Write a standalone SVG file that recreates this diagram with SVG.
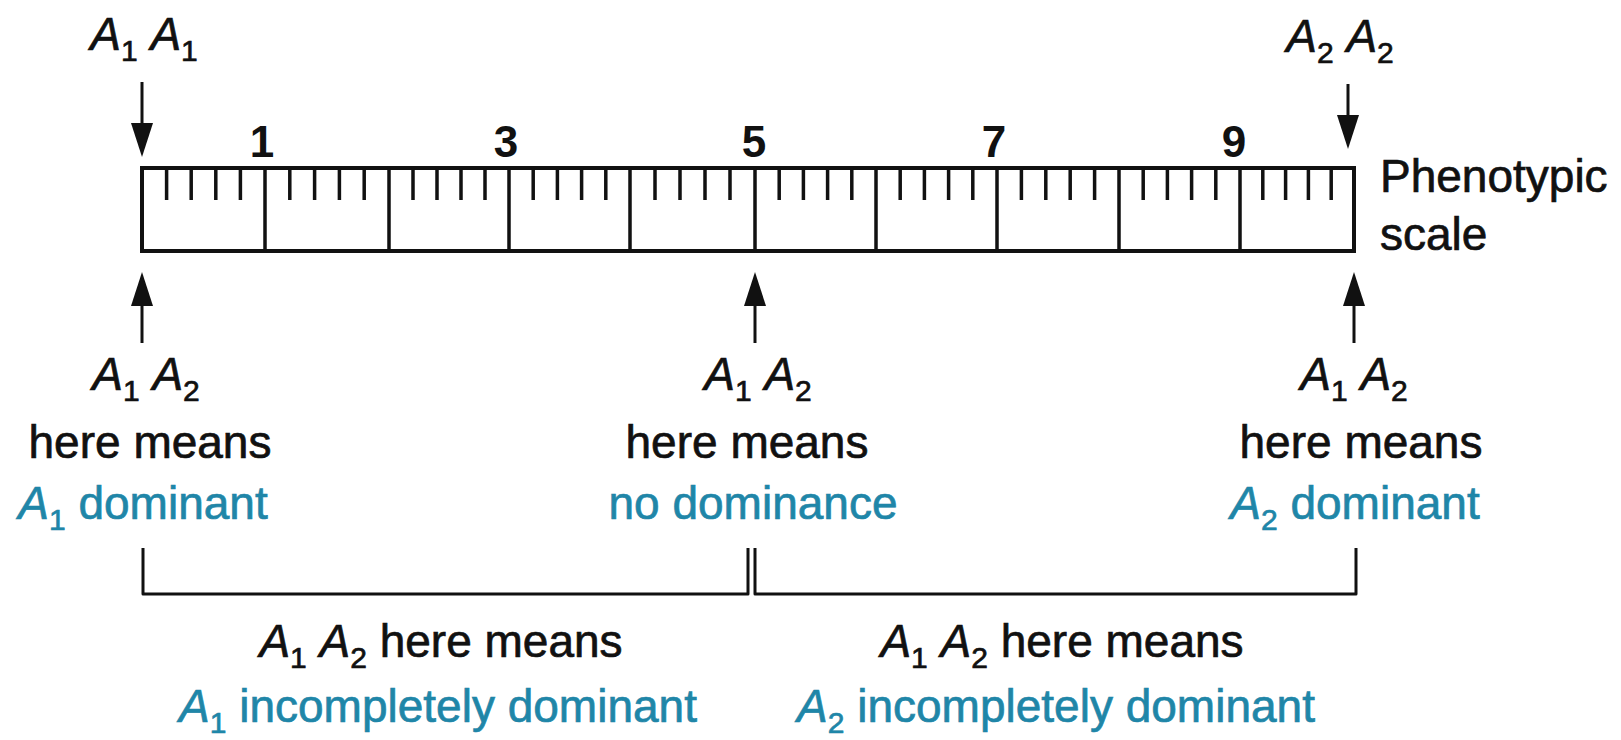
<svg xmlns="http://www.w3.org/2000/svg" width="1621" height="740" viewBox="0 0 1621 740">
<style>
.t{font-family:"Liberation Sans",Arial,Helvetica,sans-serif;font-size:46px;fill:#111;stroke:#111;stroke-width:0.7px}
.c{fill:#1f86a8;stroke:#1f86a8}
.i{font-style:italic}
.s{font-size:30px}
.n{font-family:"Liberation Sans",Arial,Helvetica,sans-serif;font-size:44px;font-weight:bold;fill:#111}
.ln{stroke:#111;fill:none}
</style>
<defs>
<marker id="ah" viewBox="0 0 34 22" refX="14" refY="11" markerWidth="34" markerHeight="22" markerUnits="userSpaceOnUse" orient="auto">
<path d="M0,0 L34,11 L0,22 z" fill="#111"/>
</marker>
</defs>
<rect width="1621" height="740" fill="#fff"/>

<g id="ruler">
<rect x="142" y="168" width="1212" height="83" class="ln" stroke-width="4"/>
<path class="ln" stroke-width="3.5" d="M265,168V251M389,168V251M509,168V251M630,168V251M755,168V251M876,168V251M997,168V251M1119,168V251M1240,168V251"/>
<path class="ln" stroke-width="3.5" d="M166.6,168V200M191.2,168V200M215.8,168V200M240.4,168V200
M289.8,168V200M314.6,168V200M339.4,168V200M364.2,168V200
M413,168V200M437,168V200M461,168V200M485,168V200
M533.2,168V200M557.4,168V200M581.6,168V200M605.8,168V200
M655,168V200M680,168V200M705,168V200M730,168V200
M779.2,168V200M803.4,168V200M827.6,168V200M851.8,168V200
M900.2,168V200M924.4,168V200M948.6,168V200M972.8,168V200
M1021.4,168V200M1045.8,168V200M1070.2,168V200M1094.6,168V200
M1143.2,168V200M1167.4,168V200M1191.6,168V200M1215.8,168V200
M1262.8,168V200M1285.6,168V200M1308.4,168V200M1331.2,168V200"/>
<text class="n" x="262" y="157" text-anchor="middle">1</text>
<text class="n" x="506" y="157" text-anchor="middle">3</text>
<text class="n" x="754" y="157" text-anchor="middle">5</text>
<text class="n" x="994" y="157" text-anchor="middle">7</text>
<text class="n" x="1234" y="157" text-anchor="middle">9</text>
</g>

<g id="scale-label">
<text class="t" x="1380" y="192">Phenotypic</text>
<text class="t" x="1380" y="250">scale</text>
</g>

<g id="a1a1">
<text class="t" x="144" y="50" text-anchor="middle"><tspan class="i">A</tspan><tspan class="s" dy="11">1</tspan><tspan dy="-11"> </tspan><tspan class="i">A</tspan><tspan class="s" dy="11">1</tspan></text>
</g>

<g id="a2a2">
<text class="t" x="1340" y="52" text-anchor="middle"><tspan class="i">A</tspan><tspan class="s" dy="11">2</tspan><tspan dy="-11"> </tspan><tspan class="i">A</tspan><tspan class="s" dy="11">2</tspan></text>
</g>

<g id="left-het">
<text class="t" x="146" y="390" text-anchor="middle"><tspan class="i">A</tspan><tspan class="s" dy="11">1</tspan><tspan dy="-11"> </tspan><tspan class="i">A</tspan><tspan class="s" dy="11">2</tspan></text>
<text class="t" x="150" y="458" text-anchor="middle">here means</text>
<text class="t c" x="143" y="519" text-anchor="middle"><tspan class="i">A</tspan><tspan class="s" dy="11">1</tspan><tspan dy="-11"> dominant</tspan></text>
</g>

<g id="mid-het">
<text class="t" x="758" y="390" text-anchor="middle"><tspan class="i">A</tspan><tspan class="s" dy="11">1</tspan><tspan dy="-11"> </tspan><tspan class="i">A</tspan><tspan class="s" dy="11">2</tspan></text>
<text class="t" x="747" y="458" text-anchor="middle">here means</text>
<text class="t c" x="753" y="519" text-anchor="middle">no dominance</text>
</g>

<g id="right-het">
<text class="t" x="1354" y="390" text-anchor="middle"><tspan class="i">A</tspan><tspan class="s" dy="11">1</tspan><tspan dy="-11"> </tspan><tspan class="i">A</tspan><tspan class="s" dy="11">2</tspan></text>
<text class="t" x="1361" y="458" text-anchor="middle">here means</text>
<text class="t c" x="1355" y="519" text-anchor="middle"><tspan class="i">A</tspan><tspan class="s" dy="11">2</tspan><tspan dy="-11"> dominant</tspan></text>
</g>

<g id="left-range">
<text class="t" x="441" y="657" text-anchor="middle"><tspan class="i">A</tspan><tspan class="s" dy="11">1</tspan><tspan dy="-11"> </tspan><tspan class="i">A</tspan><tspan class="s" dy="11">2</tspan><tspan dy="-11"> here means</tspan></text>
<text class="t c" x="438" y="722" text-anchor="middle"><tspan class="i">A</tspan><tspan class="s" dy="11">1</tspan><tspan dy="-11"> incompletely dominant</tspan></text>
</g>

<g id="right-range">
<text class="t" x="1062" y="657" text-anchor="middle"><tspan class="i">A</tspan><tspan class="s" dy="11">1</tspan><tspan dy="-11"> </tspan><tspan class="i">A</tspan><tspan class="s" dy="11">2</tspan><tspan dy="-11"> here means</tspan></text>
<text class="t c" x="1056" y="722" text-anchor="middle"><tspan class="i">A</tspan><tspan class="s" dy="11">2</tspan><tspan dy="-11"> incompletely dominant</tspan></text>
</g>

<g id="connectors" class="ln" stroke-width="3" stroke-linejoin="round">
<line x1="142" y1="82" x2="142" y2="137" marker-end="url(#ah)"/>
<line x1="1348" y1="84" x2="1348" y2="129" marker-end="url(#ah)"/>
<line x1="142" y1="343" x2="142" y2="292" marker-end="url(#ah)"/>
<line x1="755" y1="343" x2="755" y2="292" marker-end="url(#ah)"/>
<line x1="1354" y1="343" x2="1354" y2="292" marker-end="url(#ah)"/>
<path d="M143,548V594H748V548"/>
<path d="M755,548V594H1356V548"/>
</g>
</svg>
